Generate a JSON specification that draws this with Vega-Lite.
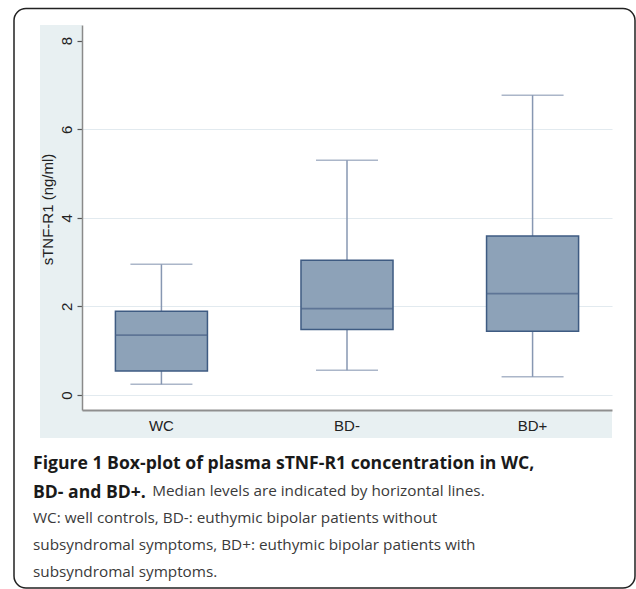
{
  "$schema": "https://vega.github.io/schema/vega-lite/v6.json",
  "width": 530,
  "height": 385,
  "autosize": {"type": "none"},
  "padding": {"left": 82, "top": 25, "right": 24, "bottom": 179},
  "background": "white",
  "view": {"fill": "white", "stroke": null},
  "title": {
    "text": ["Figure 1 Box-plot of plasma sTNF-R1 concentration in WC,", "BD- and BD+."],
    "subtitle": [
      "\u200b\u00a0\u00a0\u00a0\u00a0\u00a0\u00a0\u00a0\u00a0\u00a0\u00a0\u00a0\u00a0\u00a0\u00a0\u00a0\u00a0\u00a0\u00a0\u00a0\u00a0\u00a0\u00a0\u00a0\u00a0\u00a0\u00a0\u00a0\u00a0\u00a0\u00a0Median levels are indicated by horizontal lines.",
      "WC: well controls, BD-: euthymic bipolar patients without",
      "subsyndromal symptoms, BD+: euthymic bipolar patients with",
      "subsyndromal symptoms."
    ],
    "orient": "bottom",
    "anchor": "start",
    "frame": "group",
    "dx": -49,
    "offset": -134,
    "font": "Open Sans",
    "fontSize": 17.6,
    "fontWeight": "bold",
    "color": "#1a1a1a",
    "lineHeight": 29,
    "subtitleFont": "Open Sans",
    "subtitleFontSize": 15.3,
    "subtitleFontWeight": "normal",
    "subtitleColor": "#3a3a3a",
    "subtitleLineHeight": 27,
    "subtitlePadding": -17
  },
  "data": {
    "values": [
      {"group": "WC", "lower": 0.24, "q1": 0.54, "median": 1.35, "q3": 1.89, "upper": 2.95},
      {"group": "BD-", "lower": 0.56, "q1": 1.48, "median": 1.95, "q3": 3.04, "upper": 5.30},
      {"group": "BD+", "lower": 0.41, "q1": 1.44, "median": 2.29, "q3": 3.59, "upper": 6.77}
    ]
  },
  "resolve": {"scale": {"x": "independent"}, "axis": {"x": "independent", "y": "independent"}},
  "layer": [
    {
      "data": {"values": [{}]},
      "layer": [
        {
          "mark": {"type": "rect", "fill": "#e8f0f2"},
          "encoding": {
            "x": {"datum": -0.0792, "type": "quantitative", "scale": {"domain": [0, 1], "nice": false, "zero": false}, "axis": null},
            "x2": {"datum": 0},
            "y": {"datum": -0.971, "type": "quantitative", "scale": {"domain": [-0.339, 8.354], "nice": false, "zero": false}, "axis": null},
            "y2": {"datum": 8.354}
          }
        },
        {
          "mark": {"type": "rect", "fill": "#e8f0f2"},
          "encoding": {
            "x": {"datum": 0, "type": "quantitative", "scale": {"domain": [0, 1], "nice": false, "zero": false}, "axis": null},
            "x2": {"datum": 1},
            "y": {"datum": -0.971, "type": "quantitative", "scale": {"domain": [-0.339, 8.354], "nice": false, "zero": false}, "axis": null},
            "y2": {"datum": -0.339}
          }
        },
        {
          "mark": {"type": "rect", "fill": "white", "fillOpacity": 0, "stroke": "#222222", "strokeWidth": 1.5, "cornerRadius": 12},
          "encoding": {
            "x": {"datum": -0.1283, "type": "quantitative", "scale": {"domain": [0, 1], "nice": false, "zero": false}, "axis": null},
            "x2": {"datum": 1.0434},
            "y": {"datum": -4.358, "type": "quantitative", "scale": {"domain": [-0.339, 8.354], "nice": false, "zero": false}, "axis": null},
            "y2": {"datum": 8.726}
          }
        }
      ]
    },
    {
      "resolve": {"axis": {"y": "independent"}},
      "encoding": {
        "x": {
          "field": "group",
          "type": "nominal",
          "sort": ["WC", "BD-", "BD+"],
          "scale": {"paddingInner": 0.504, "paddingOuter": 0.18},
          "axis": {
            "orient": "bottom",
            "zindex": 1,
            "title": null,
            "grid": false,
            "ticks": false,
            "labelAngle": 0,
            "labelFont": "Liberation Sans",
            "labelFontSize": 15,
            "labelColor": "#222222",
            "labelPadding": 8,
            "domainColor": "#8f8f8f",
            "domainWidth": 2
          }
        }
      },
      "layer": [
        {
          "mark": {"type": "rule", "color": "#8797b2", "strokeWidth": 1.5},
          "encoding": {
            "y": {
              "field": "lower",
              "type": "quantitative",
              "scale": {"domain": [-0.339, 8.354], "nice": false, "zero": false},
              "axis": {
                "orient": "left",
                "zindex": 0,
                "values": [0, 2, 4, 6],
                "grid": true,
                "gridColor": "#e2eaef",
                "gridWidth": 1.2,
                "labels": false,
                "ticks": false,
                "domain": false,
                "title": null
              }
            },
            "y2": {"field": "q1"}
          }
        },
        {
          "mark": {"type": "rule", "color": "#8797b2", "strokeWidth": 1.5},
          "encoding": {
            "y": {"field": "q3", "type": "quantitative", "scale": {"domain": [-0.339, 8.354], "nice": false, "zero": false}, "axis": null},
            "y2": {"field": "upper"}
          }
        },
        {
          "mark": {"type": "tick", "orient": "horizontal", "color": "#8797b2", "thickness": 1.5, "size": 62},
          "encoding": {
            "y": {"field": "lower", "type": "quantitative", "scale": {"domain": [-0.339, 8.354], "nice": false, "zero": false}, "axis": null}
          }
        },
        {
          "mark": {"type": "tick", "orient": "horizontal", "color": "#8797b2", "thickness": 1.5, "size": 62},
          "encoding": {
            "y": {"field": "upper", "type": "quantitative", "scale": {"domain": [-0.339, 8.354], "nice": false, "zero": false}, "axis": null}
          }
        },
        {
          "mark": {"type": "bar", "fill": "#8da2b8", "stroke": "#3e5b82", "strokeWidth": 1.5},
          "encoding": {
            "y": {"field": "q1", "type": "quantitative", "scale": {"domain": [-0.339, 8.354], "nice": false, "zero": false}, "axis": null},
            "y2": {"field": "q3"}
          }
        },
        {
          "mark": {"type": "tick", "orient": "horizontal", "color": "#4a6388", "thickness": 1.8, "size": 92},
          "encoding": {
            "y": {
              "field": "median",
              "type": "quantitative",
              "scale": {"domain": [-0.339, 8.354], "nice": false, "zero": false},
              "axis": {
                "orient": "left",
                "zindex": 1,
                "grid": false,
                "values": [0, 2, 4, 6, 8],
                "labelAngle": -90,
                "labelFont": "Liberation Sans",
                "labelFontSize": 15,
                "labelColor": "#222222",
                "labelPadding": 3,
                "tickSize": 5,
                "tickColor": "#555555",
                "tickWidth": 1.2,
                "domainColor": "#8a8a8a",
                "domainWidth": 1.5,
                "title": "sTNF-R1 (ng/ml)",
                "titleFont": "Liberation Sans",
                "titleFontSize": 15,
                "titleFontWeight": "normal",
                "titleColor": "#222222",
                "titleY": 184
              }
            }
          }
        }
      ]
    }
  ]
}
